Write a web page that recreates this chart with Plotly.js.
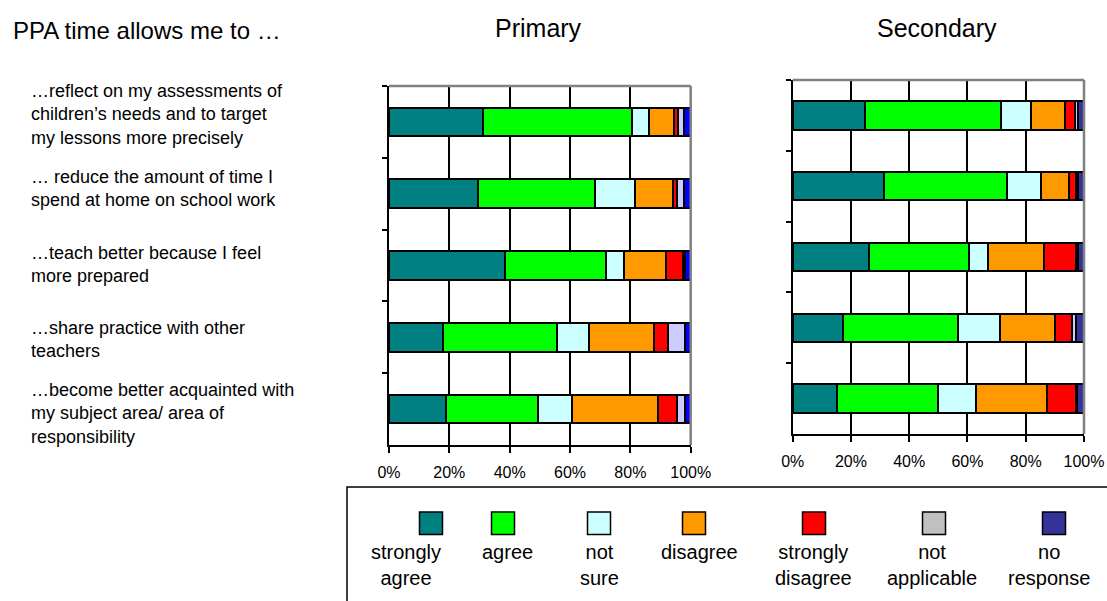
<!DOCTYPE html>
<html>
<head>
<meta charset="utf-8">
<script src="https://cdn.plot.ly/plotly-3.0.1.min.js"></script>
<style>html,body{margin:0;padding:0;background:#fff;}#chart{width:1107px;height:601px;}</style>
</head>
<body>
<div id="chart"></div>
<script>
// ---------- DATA ----------
const statements = [
  "reflect on my assessments",
  "reduce the amount of time",
  "teach better",
  "share practice",
  "become better acquainted"
];
const statementLabels = [
  "…reflect on my assessments of<br>children’s needs and to target<br>my lessons more precisely",
  "… reduce the amount of time I<br>spend at home on school work",
  "…teach better because I feel<br>more prepared",
  "…share practice with other<br>teachers",
  "…become better acquainted with<br>my subject area/ area of<br>responsibility"
];
const responses = ["strongly agree", "agree", "not sure", "disagree", "strongly disagree", "not applicable", "no response"];
const legendLabels = ["strongly<br>agree", "agree", "not<br>sure", "disagree", "strongly<br>disagree", "not<br>applicable", "no<br>response"];

// Primary (%)
const primaryStronglyAgree    = [31.2, 29.5, 38.4, 17.9, 19.0];
const primaryAgree            = [49.2, 38.7, 33.4, 37.9, 30.3];
const primaryNotSure          = [5.9, 13.3, 6.2, 10.5, 11.5];
const primaryDisagree         = [8.0, 12.7, 13.7, 21.5, 28.4];
const primaryStronglyDisagree = [1.4, 1.4, 5.6, 4.8, 6.1];
const primaryNotApplicable    = [2.2, 2.2, 0.8, 5.5, 2.8];
const primaryNoResponse       = [2.1, 2.2, 1.9, 1.9, 1.9];

// Secondary (%)
const secondaryStronglyAgree    = [24.8, 31.4, 26.1, 17.2, 15.1];
const secondaryAgree            = [46.7, 42.1, 34.4, 39.7, 34.7];
const secondaryNotSure          = [10.3, 11.6, 6.6, 14.1, 13.2];
const secondaryDisagree         = [11.7, 9.6, 19.1, 19.1, 24.3];
const secondaryStronglyDisagree = [3.4, 2.6, 11.0, 5.7, 9.8];
const secondaryNotApplicable    = [0.9, 0.5, 0.6, 1.5, 0.5];
const secondaryNoResponse       = [2.2, 2.2, 2.2, 2.7, 2.4];

const xTickVals = [0, 20, 40, 60, 80, 100];
const xTickText = ["0%", "20%", "40%", "60%", "80%", "100%"];

// ---------- STYLE ----------
const primaryColors   = ["#008080", "#00FF00", "#CCFFFF", "#FF9900", "#FF0000", "#CCCCFF", "#0000FF"];
const secondaryColors = ["#008080", "#00FF00", "#CCFFFF", "#FF9900", "#FF0000", "#CCCCFF", "#333399"];
const legendColors    = ["#008080", "#00FF00", "#CCFFFF", "#FF9900", "#FF0000", "#C0C0C0", "#333399"];
const FONT = "Liberation Sans, Arial, Helvetica, sans-serif";
const W = 1107, H = 601;
const px = x => x / W;
const py = y => 1 - y / H;

const primarySeries = [primaryStronglyAgree, primaryAgree, primaryNotSure, primaryDisagree,
  primaryStronglyDisagree, primaryNotApplicable, primaryNoResponse];
const secondarySeries = [secondaryStronglyAgree, secondaryAgree, secondaryNotSure, secondaryDisagree,
  secondaryStronglyDisagree, secondaryNotApplicable, secondaryNoResponse];

const traces = [];
responses.forEach((name, i) => {
  traces.push({
    type: "bar", orientation: "h", name: name,
    y: statements, x: primarySeries[i],
    xaxis: "x", yaxis: "y",
    marker: { color: primaryColors[i], line: { color: "#000", width: 2 } },
    showlegend: false, hoverinfo: "name+x"
  });
  traces.push({
    type: "bar", orientation: "h", name: name,
    y: statements, x: secondarySeries[i],
    xaxis: "x2", yaxis: "y2",
    marker: { color: secondaryColors[i], line: { color: "#000", width: 2 } },
    showlegend: false, hoverinfo: "name+x"
  });
});

function xAxis(domain, anchor) {
  return {
    domain: domain, anchor: anchor, range: [0, 100],
    tickvals: xTickVals, ticktext: xTickText,
    showgrid: true, gridcolor: "#000", gridwidth: 2,
    zeroline: false, showline: true, linecolor: "#000", linewidth: 2,
    ticks: "outside", ticklen: 6, tickwidth: 2, tickcolor: "#000",
    tickfont: { family: FONT, size: 16, color: "#000" },
    ticklabelstandoff: 6, fixedrange: true
  };
}
function yAxis(domain, anchor) {
  return {
    domain: domain, anchor: anchor, type: "category",
    autorange: "reversed", showticklabels: false,
    ticks: "outside", tickson: "boundaries", ticklen: 5, tickwidth: 2, tickcolor: "#000",
    showline: true, linecolor: "#000", linewidth: 2,
    showgrid: false, zeroline: false, fixedrange: true
  };
}

const shapes = [];
["", "2"].forEach(s => {
  shapes.push({ type: "line", xref: "x" + s + " domain", yref: "y" + s + " domain",
    x0: 0, x1: 1, y0: 1, y1: 1, line: { color: "#808080", width: 2.5 }, layer: "above" });
  shapes.push({ type: "line", xref: "x" + s + " domain", yref: "y" + s + " domain",
    x0: 1, x1: 1, y0: 0, y1: 1, line: { color: "#808080", width: 2.5 }, layer: "above" });
});
// legend box
shapes.push({ type: "rect", xref: "paper", yref: "paper",
  x0: px(347), x1: px(1120), y0: py(620), y1: py(487),
  line: { color: "#000", width: 1.5 }, fillcolor: "rgba(0,0,0,0)" });

const legendSquareX = [431, 503, 599, 694, 814, 934, 1054];
const legendLabelX  = [406, 507, 599, 699, 813.5, 931.5, 1049];
legendColors.forEach((c, i) => {
  shapes.push({ type: "rect", xref: "paper", yref: "paper",
    x0: px(legendSquareX[i] - 11.5), x1: px(legendSquareX[i] + 11.5),
    y0: py(534.5), y1: py(512),
    line: { color: "#000", width: 1.5 }, fillcolor: c });
});

const annotations = [];
annotations.push({ xref: "paper", yref: "paper", x: px(11), y: py(31), xanchor: "left", yanchor: "middle",
  text: "PPA time allows me to …", showarrow: false, font: { family: FONT, size: 24, color: "#000" } });
annotations.push({ xref: "paper", yref: "paper", x: px(538), y: py(28), xanchor: "center", yanchor: "middle",
  text: "Primary", showarrow: false, font: { family: FONT, size: 25, color: "#000" } });
annotations.push({ xref: "paper", yref: "paper", x: px(936.5), y: py(28), xanchor: "center", yanchor: "middle",
  text: "Secondary", showarrow: false, font: { family: FONT, size: 25, color: "#000" } });

const labelCenters = [114, 189, 264, 339, 413.5];
statementLabels.forEach((t, i) => {
  annotations.push({ xref: "paper", yref: "paper", x: px(29), y: py(labelCenters[i]),
    xanchor: "left", yanchor: "middle", align: "left", text: t, showarrow: false,
    font: { family: FONT, size: 18, color: "#000" } });
});

legendLabels.forEach((t, i) => {
  annotations.push({ xref: "paper", yref: "paper", x: px(legendLabelX[i]), y: py(539),
    xanchor: "center", yanchor: "top", align: "center", text: t, showarrow: false,
    font: { family: FONT, size: 20, color: "#000" } });
});

const layout = {
  width: W, height: H,
  margin: { l: 0, r: 0, t: 0, b: 0, pad: 0 },
  paper_bgcolor: "#fff", plot_bgcolor: "#fff",
  barmode: "stack", bargap: 0.6, showlegend: false,
  font: { family: FONT, color: "#000" },
  xaxis: xAxis([px(389), px(690.7)], "y"),
  yaxis: yAxis([py(445), py(86)], "x"),
  xaxis2: xAxis([px(792.7), px(1084)], "y2"),
  yaxis2: yAxis([py(434), py(80)], "x2"),
  shapes: shapes,
  annotations: annotations
};

Plotly.newPlot("chart", traces, layout, { displayModeBar: false, staticPlot: true });
</script>
</body>
</html>
